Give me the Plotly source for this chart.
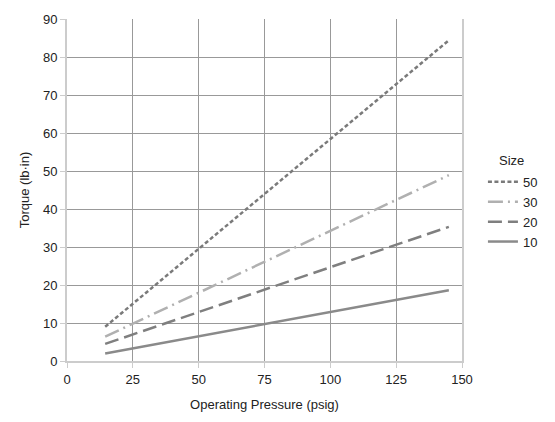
import plotly.graph_objects as go

pressure = [14.5, 145]
sizes = ["50", "30", "20", "10"]
torque_50 = [9.0, 84.4]
torque_30 = [6.4, 48.9]
torque_20 = [4.5, 35.3]
torque_10 = [2.0, 18.6]

x_ticks = [0, 25, 50, 75, 100, 125, 150]
y_ticks = [0, 10, 20, 30, 40, 50, 60, 70, 80, 90]

series = [
    ("50", torque_50, "#7a7a7a", "4px,2.5px"),
    ("30", torque_30, "#b0b0b0", "15px,5px,2px,5px"),
    ("20", torque_20, "#7f7f7f", "14px,6px"),
    ("10", torque_10, "#8a8a8a", "solid"),
]

fig = go.Figure()
for name, ys, color, dash in series:
    fig.add_trace(go.Scatter(
        x=pressure, y=ys, mode="lines", name=name,
        line=dict(color=color, width=2.5, dash=dash),
    ))

font = dict(family="Liberation Sans, Arial, sans-serif", size=13, color="#222")

fig.update_layout(
    width=555, height=422,
    margin=dict(l=67, r=90, t=13, b=59),
    paper_bgcolor="white", plot_bgcolor="white",
    font=font,
    showlegend=True,
    legend=dict(
        x=1.053, xanchor="left", y=0.436, yanchor="middle",
        font=font, bgcolor="rgba(0,0,0,0)", tracegroupgap=0,
    ),
    xaxis=dict(
        range=[0, 150], tickvals=x_ticks, showgrid=True, gridcolor="#999999", gridwidth=1,
        showline=True, linecolor="#cccccc", linewidth=2, ticks="outside", ticklen=5,
        tickcolor="#cccccc", zeroline=False,
        title=dict(text="Operating Pressure (psig)", font=font, standoff=14),
    ),
    yaxis=dict(
        range=[0, 90], tickvals=y_ticks, showgrid=True, gridcolor="#999999", gridwidth=1,
        showline=True, linecolor="#cccccc", linewidth=2, mirror=True, ticks="outside",
        ticklen=5, tickcolor="#cccccc", zeroline=False,
        title=dict(text="Torque (lb·in)", font=font, standoff=10),
    ),
    annotations=[dict(
        text="Size", xref="paper", yref="paper", x=1.0 + (515 - 465) / 398, y=(363 - 158) / 350,
        xanchor="center", yanchor="middle", showarrow=False, font=font,
    )],
)

fig.write_html(
    "out.html",
    config={"displayModeBar": False},
    post_script="document.body.style.margin='0';document.body.style.overflow='hidden';",
)
